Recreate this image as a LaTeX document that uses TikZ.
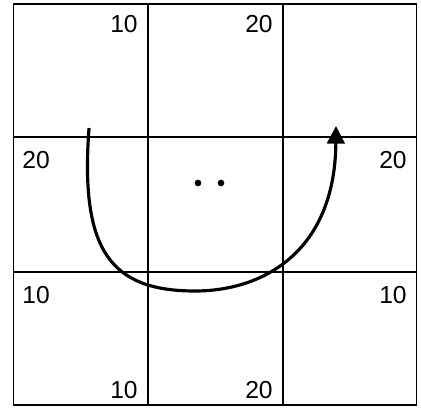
\documentclass[tikz,border=0pt]{standalone}
\usepackage{fontspec}
\setmainfont{Liberation Sans}
\usetikzlibrary{arrows.meta}
\begin{document}
\begin{tikzpicture}[x=0.02cm,y=-0.02cm,
  lbl/.style={inner sep=0pt,font=\fontsize{14pt}{16pt}\selectfont},
  thin grid/.style={line width=0.6pt},
  outer/.style={line width=1.1pt},
  path arrow/.style={line width=1.8pt,-{Triangle[length=10pt,width=10pt]}},
  dotmark/.style={circle,fill=black,inner sep=0pt,minimum size=3.8pt}]
\useasboundingbox (0,0) rectangle (421,408);
% grid
\draw[thin grid] (148,4) -- (148,405) (283,4) -- (283,405)
                 (13.5,137) -- (416.5,137) (13.5,272) -- (416.5,272);
\draw[outer] (13.5,4) rectangle (416.5,405);
% labels
\node[lbl,anchor=base east] (t1) at (138,33) {10};
\node[lbl,anchor=base east] (t2) at (273,33) {20};
\node[lbl,anchor=base west] (l1) at (22,169) {20};
\node[lbl,anchor=base east] (r1) at (407,169) {20};
\node[lbl,anchor=base west] (l2) at (22,303) {10};
\node[lbl,anchor=base east] (r2) at (407,303) {10};
\node[lbl,anchor=base east] (b1) at (138,398) {10};
\node[lbl,anchor=base east] (b2) at (273,398) {20};
% dots
\node[dotmark] (d1) at (198,183) {};
\node[dotmark] (d2) at (221,183) {};
% curve
\coordinate (s) at (89,128);
\coordinate (m) at (195,291);
\coordinate (e) at (336,126);
\draw[path arrow] (s) .. controls (80,250) and (110,291) .. (m)
   .. controls (265,291) and (335,250) .. (e);
\end{tikzpicture}
\end{document}
